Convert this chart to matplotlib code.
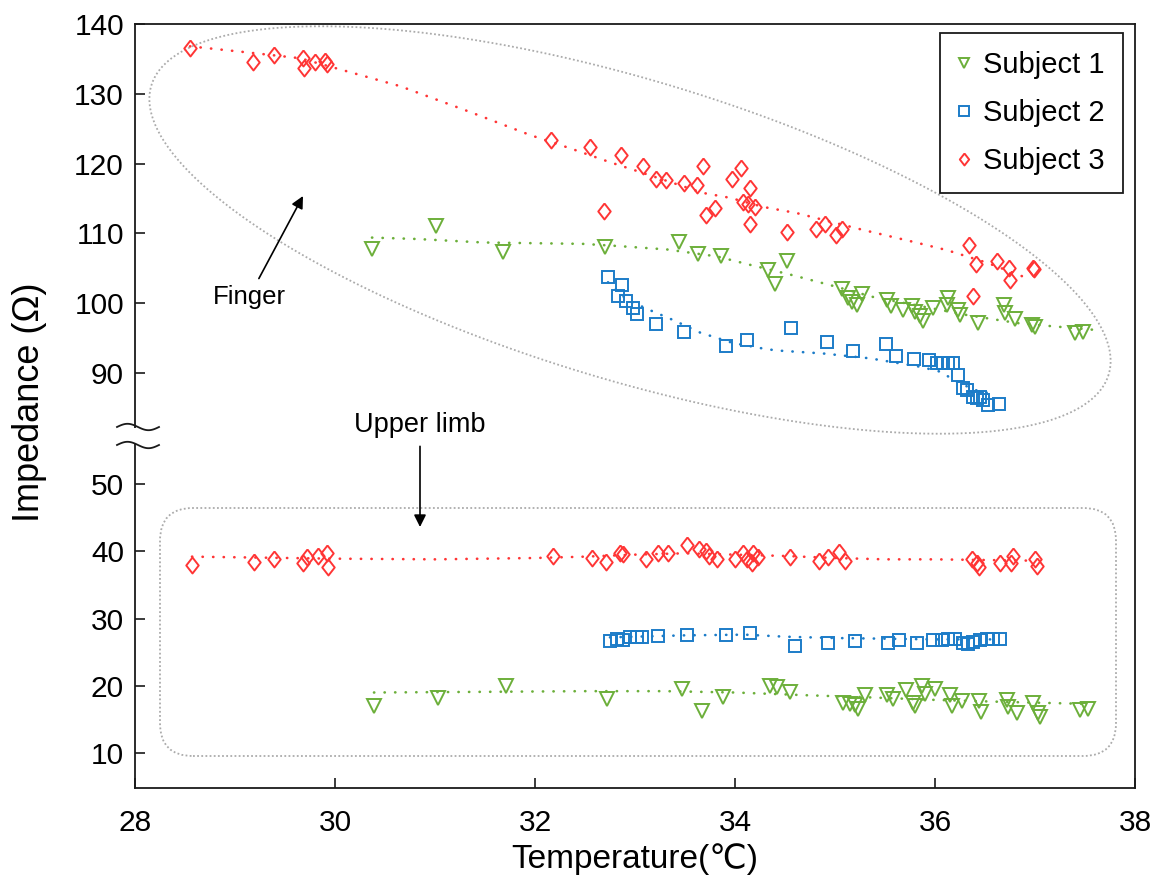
import numpy as np
import matplotlib.pyplot as plt
from matplotlib.patches import FancyBboxPatch, Rectangle

plt.rcParams['font.family'] = ['Liberation Sans', 'DejaVu Sans']

# ---------------- data (temperature in degC, impedance in ohm) ----------------
# Subject 1, finger
s1_fin_t = [30.37, 31.01, 31.68, 32.70, 33.44, 33.63, 33.86, 34.33, 34.40, 34.52,
            35.07, 35.13, 35.17, 35.22, 35.27, 35.52, 35.56, 35.68, 35.77, 35.80,
            35.85, 35.88, 35.98, 36.13, 36.12, 36.23, 36.25, 36.43, 36.69, 36.70,
            36.80, 36.97, 37.00, 37.40, 37.48]
s1_fin_z = [107.7, 111.0, 107.4, 108.0, 108.7, 107.0, 106.7, 104.8, 102.8, 106.0,
            102.1, 100.7, 100.2, 99.7, 101.3, 100.5, 99.6, 99.0, 99.6, 98.8,
            98.1, 97.4, 99.3, 100.7, 99.7, 99.0, 98.3, 97.1, 99.7, 98.6,
            97.8, 96.9, 96.6, 95.7, 95.9]
s1_fin_fit_t = [30.37, 30.82, 31.48, 32.48, 32.82, 33.32, 33.82, 34.15, 34.58, 34.95,
                35.38, 36.32, 36.85, 37.58]
s1_fin_fit_z = [109.4, 109.2, 108.7, 108.5, 108.2, 107.7, 106.7, 105.5, 104.0, 102.6,
                100.9, 98.3, 97.1, 96.2]

# Subject 2, finger
s2_fin_t = [32.73, 32.87, 32.83, 32.91, 32.98, 33.02, 33.21, 33.49, 33.91, 34.12,
            34.56, 34.92, 35.18, 35.51, 35.61, 35.79, 35.94, 36.02, 36.08, 36.13,
            36.18, 36.23, 36.28, 36.32, 36.38, 36.42, 36.45, 36.48, 36.53, 36.64]
s2_fin_z = [103.8, 102.6, 101.0, 100.3, 99.3, 98.4, 97.0, 95.9, 93.9, 94.8,
            96.4, 94.5, 93.2, 94.2, 92.5, 92.0, 91.8, 91.5, 91.4, 91.5,
            91.5, 89.7, 87.8, 87.6, 86.6, 86.4, 86.6, 86.2, 85.4, 85.5]
s2_fin_fit_t = [32.73, 32.92, 33.15, 33.38, 33.65, 33.98, 34.32, 34.45, 34.88, 35.35,
                35.85, 36.05, 36.25, 36.45, 36.57]
s2_fin_fit_z = [103.0, 100.5, 99.0, 97.6, 95.8, 94.3, 93.4, 93.2, 92.8, 92.1,
                90.9, 90.2, 88.5, 87.3, 87.1]

# Subject 3, finger
s3_fin_t = [28.55, 29.18, 29.39, 29.68, 29.69, 29.80, 29.90, 29.92, 32.16, 32.55,
            32.69, 32.86, 33.08, 33.21, 33.31, 33.49, 33.62, 33.68, 33.71, 33.80,
            33.97, 34.06, 34.08, 34.13, 34.15, 34.15, 34.20, 34.52, 34.81, 34.90,
            35.01, 35.07, 36.34, 36.38, 36.41, 36.62, 36.74, 36.75, 36.98, 36.99]
s3_fin_z = [136.6, 134.5, 135.5, 135.2, 133.7, 134.5, 134.7, 134.2, 123.4, 122.4,
            113.2, 121.2, 119.6, 117.8, 117.7, 117.2, 117.0, 119.7, 112.6, 113.7,
            117.8, 119.3, 114.5, 114.2, 116.5, 111.4, 113.8, 110.2, 110.6, 111.4,
            109.8, 110.7, 108.3, 101.0, 105.6, 106.1, 105.1, 103.3, 105.1, 104.9]
s3_fin_fit_t = [28.55, 29.08, 29.65, 30.65, 31.35, 31.95, 32.35, 32.75, 33.05, 33.68,
                33.95, 34.28, 34.62, 35.28, 35.78, 36.12, 36.52, 36.92]
s3_fin_fit_z = [136.8, 136.0, 135.1, 131.1, 127.4, 124.1, 122.2, 120.2, 118.8, 115.8,
                115.1, 113.8, 112.9, 110.5, 108.8, 107.6, 105.8, 103.6]

# Subject 1, upper limb
s1_arm_t = [30.39, 31.03, 31.71, 32.72, 33.47, 33.67, 33.88, 34.35, 34.42, 34.55,
            35.08, 35.15, 35.20, 35.23, 35.30, 35.52, 35.58, 35.71, 35.78, 35.80,
            35.87, 35.90, 36.00, 36.15, 36.17, 36.27, 36.44, 36.46, 36.72, 36.73,
            36.82, 36.98, 37.03, 37.05, 37.45, 37.53]
s1_arm_z = [17.0, 18.2, 20.0, 18.1, 19.5, 16.3, 18.4, 20.0, 19.8, 19.1,
            17.4, 17.3, 17.1, 16.5, 18.6, 18.6, 18.0, 19.4, 17.5, 17.0,
            20.0, 18.8, 19.5, 18.6, 17.0, 17.8, 17.8, 16.1, 17.9, 16.9,
            16.0, 17.4, 16.0, 15.4, 16.4, 16.5]
s1_arm_fit_t = [30.39, 31.5, 32.5, 33.3, 34.0, 34.7, 35.3, 36.0, 36.7, 37.53]
s1_arm_fit_z = [19.0, 19.1, 19.2, 19.2, 19.0, 18.6, 18.3, 17.9, 17.6, 17.3]

# Subject 2, upper limb
s2_arm_t = [32.75, 32.82, 32.88, 32.95, 33.02, 33.07, 33.23, 33.52, 33.91, 34.15,
            34.60, 34.93, 35.20, 35.53, 35.64, 35.82, 35.98, 36.07, 36.13, 36.20,
            36.28, 36.33, 36.38, 36.45, 36.52, 36.58, 36.65]
s2_arm_z = [26.7, 26.9, 26.8, 27.2, 27.3, 27.3, 27.4, 27.5, 27.6, 27.8,
            25.9, 26.4, 26.7, 26.3, 26.8, 26.4, 26.8, 26.8, 26.9, 26.9,
            26.4, 26.2, 26.5, 26.8, 26.9, 26.9, 26.9]
s2_arm_fit_t = [32.75, 33.5, 34.1, 34.5, 35.0, 35.5, 36.0, 36.65]
s2_arm_fit_z = [27.2, 27.5, 27.6, 27.3, 27.1, 27.0, 26.9, 26.9]

# Subject 3, upper limb
s3_arm_t = [28.57, 29.19, 29.39, 29.68, 29.72, 29.83, 29.92, 29.93, 32.18, 32.57,
            32.71, 32.85, 32.88, 33.11, 33.23, 33.33, 33.52, 33.64, 33.71, 33.74,
            33.82, 34.00, 34.08, 34.12, 34.17, 34.18, 34.23, 34.55, 34.84, 34.93,
            35.04, 35.10, 36.37, 36.42, 36.44, 36.65, 36.76, 36.78, 37.00, 37.02]
s3_arm_z = [38.0, 38.4, 38.8, 38.2, 39.1, 39.3, 39.7, 37.6, 39.3, 39.0,
            38.4, 39.7, 39.6, 38.8, 39.7, 39.8, 40.9, 40.4, 40.1, 39.3,
            38.8, 38.8, 39.8, 38.8, 38.3, 39.7, 39.1, 39.2, 38.6, 39.2,
            39.9, 38.6, 38.8, 38.2, 37.6, 38.2, 38.2, 39.3, 38.8, 37.8]
s3_arm_fit_t = [28.57, 30.0, 31.0, 32.0, 32.5, 33.0, 33.5, 34.0, 34.5, 35.0,
                35.5, 36.0, 36.5, 37.0]
s3_arm_fit_z = [39.2, 38.9, 38.8, 39.0, 39.2, 39.5, 39.7, 39.5, 39.3, 39.0,
                38.8, 38.8, 38.7, 38.6]

x_ticks = [28, 30, 32, 34, 36, 38]
y_ticks = [10, 20, 30, 40, 50, 90, 100, 110, 120, 130, 140]
labels = ['Subject 1', 'Subject 2', 'Subject 3']

GREEN, BLUE, RED = '#6caf3a', '#1c7cc8', '#ff3535'
DIAMOND = [(0, 1), (0.78, 0), (0, -1), (-0.78, 0), (0, 1)]

# ---------------- broken y axis: 10-57 below, 81-140 above ----------------
def lower_px(v):
    return 35 + (v - 10) * 6.725

def upper_px(v):
    return 415 + (v - 90) * 6.98

Y_KNOTS = [-100, 57.1, 81.0, 400]
P_KNOTS = [lower_px(-100), lower_px(57.1), upper_px(81.0), upper_px(400)]

def fwd(v):
    return np.interp(v, Y_KNOTS, P_KNOTS)

def inv(p):
    return np.interp(p, P_KNOTS, Y_KNOTS)

# frame geometry in pixels, for the hand drawn annotations
AX_L, AX_T, AX_W, AX_H = 135, 24, 1000, 764

def frac(px, py):
    px = np.asarray(px, float)
    py = np.asarray(py, float)
    return (px - AX_L) / AX_W, (AX_T + AX_H - py) / AX_H

fig = plt.figure(figsize=(11.58, 8.85), dpi=100)
ax = fig.add_axes([AX_L / 1158, (885 - AX_T - AX_H) / 885, AX_W / 1158, AX_H / 885])
ax.set_yscale('function', functions=(fwd, inv))

fit_style = dict(lw=1.9, linestyle=(0, (0.1, 3.9)), dash_capstyle='round', zorder=2)
mk = dict(linestyle='none', mfc='none', mew=1.4, zorder=3)

series = [
    (s1_fin_t, s1_fin_z, s1_fin_fit_t, s1_fin_fit_z, GREEN, 'v', 10),
    (s2_fin_t, s2_fin_z, s2_fin_fit_t, s2_fin_fit_z, BLUE, 's', 8.8),
    (s3_fin_t, s3_fin_z, s3_fin_fit_t, s3_fin_fit_z, RED, DIAMOND, 11.5),
    (s1_arm_t, s1_arm_z, s1_arm_fit_t, s1_arm_fit_z, GREEN, 'v', 10),
    (s2_arm_t, s2_arm_z, s2_arm_fit_t, s2_arm_fit_z, BLUE, 's', 8.8),
    (s3_arm_t, s3_arm_z, s3_arm_fit_t, s3_arm_fit_z, RED, DIAMOND, 11.5),
]
handles = []
for i, (t, z, ft, fz, col, m, ms) in enumerate(series):
    ax.plot(ft, fz, color=col, **fit_style)
    h, = ax.plot(t, z, marker=m, ms=ms, mec=col, **mk)
    if i < 3:
        handles.append(h)

ax.set_xlim(28, 38)
ax.set_ylim(4.8, 140)
ax.set_xticks(x_ticks)
ax.set_yticks(y_ticks)
ax.tick_params(direction='in', length=7, width=1.2, labelsize=21.5, color='#1a1a1a')
ax.tick_params(axis='x', pad=15)
ax.tick_params(axis='y', pad=8)
for sp in ax.spines.values():
    sp.set_linewidth(1.3)
    sp.set_color('#1a1a1a')

ax.set_xlabel('Temperature(\u2103)', fontsize=24)
ax.set_ylabel('Impedance (\u03a9)', fontsize=26)
ax.xaxis.set_label_coords(0.5, -0.072)
ax.yaxis.set_label_coords(-0.088, 0.505)

leg = ax.legend(handles, labels, loc='upper right', bbox_to_anchor=(0.988, 0.988),
                borderaxespad=0, fontsize=21, frameon=True, fancybox=False,
                framealpha=1, edgecolor='#1a1a1a', handlelength=0.4,
                handletextpad=0.45, borderpad=0.62, labelspacing=0.68, markerscale=0.75)
leg.get_frame().set_linewidth(1.3)
leg.set_zorder(8)

# tilted ellipse around the finger data (pixel geometry of the reference)
th = np.linspace(0, 2 * np.pi, 400)
phi = np.deg2rad(16.8)
ex_px = 630 + 500 * np.cos(th) * np.cos(phi) - 150 * np.sin(th) * np.sin(phi)
ey_px = 230 + 500 * np.cos(th) * np.sin(phi) + 150 * np.sin(th) * np.cos(phi)
ex, ey = frac(ex_px, ey_px)
ax.plot(ex, ey, transform=ax.transAxes, color='#ababab', lw=1.3,
        linestyle=(0, (1, 1.3)), clip_on=False, zorder=1)

# rounded box around the upper limb data
bx0, by0 = frac(160, 756)
bx1, by1 = frac(1116, 508)
box = FancyBboxPatch((bx0, by0), bx1 - bx0, by1 - by0,
                     boxstyle='round,pad=0,rounding_size=0.033',
                     mutation_aspect=1.309, transform=ax.transAxes,
                     fill=False, ec='#ababab', lw=1.3, linestyle=(0, (1, 1.3)), zorder=1)
ax.add_patch(box)

# annotations
ax.annotate('Finger', xy=frac(303, 196), xytext=frac(249, 297),
            xycoords='axes fraction', textcoords='axes fraction',
            fontsize=18.5, ha='center', va='center',
            arrowprops=dict(arrowstyle='-|>', color='black', lw=1.2,
                            mutation_scale=18, shrinkA=3, shrinkB=0))
ax.annotate('Upper limb', xy=frac(420, 527), xytext=frac(420, 425),
            xycoords='axes fraction', textcoords='axes fraction',
            fontsize=19.5, ha='center', va='center',
            arrowprops=dict(arrowstyle='-|>', color='black', lw=1.2,
                            mutation_scale=18, shrinkA=4, shrinkB=0))

# axis break marks on the left spine
gx0, gy0 = frac(126, 444)
gx1, gy1 = frac(146, 428)
ax.add_patch(Rectangle((gx0, gy0), gx1 - gx0, gy1 - gy0, transform=ax.transAxes,
                       fc='white', ec='none', clip_on=False, zorder=5))
s = np.linspace(0, 1, 60)
for yb in (427, 445):
    wx, wy = frac(117 + 42 * s, yb - 3.2 * np.sin(2 * np.pi * s))
    ax.plot(wx, wy, transform=ax.transAxes, color='#1a1a1a', lw=1.3,
            clip_on=False, zorder=6)

fig.savefig('out.png', dpi=100)
